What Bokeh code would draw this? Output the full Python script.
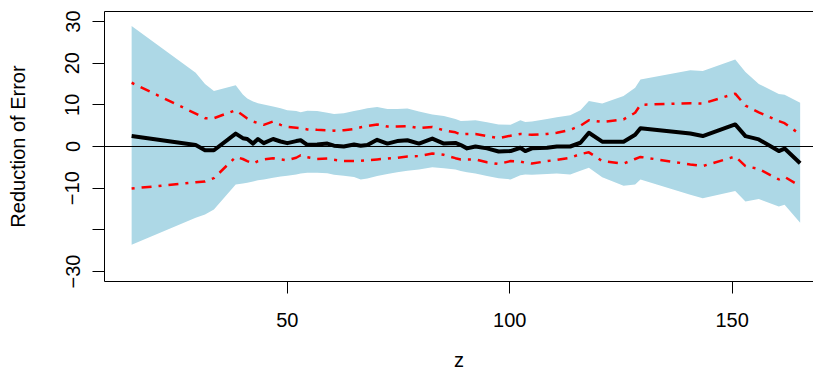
from bokeh.plotting import figure
from bokeh.models import Range1d, FixedTicker, Span, LinearAxis
from bokeh.embed import file_html
from bokeh.resources import INLINE

# ---- data ----
z = [15, 29.4, 31.5, 33.5, 38.4, 40, 41, 42.3, 43.4, 44.7, 46.8, 48.5, 50, 52, 53, 54.5,
     56.7, 59, 60.5, 62.7, 65, 66.5, 68, 70.2, 72.5, 74.7, 77, 79.6, 82.6, 85.2, 87.8, 89,
     90.4, 92.3, 94.9, 97.5, 100.2, 102.4, 103.5, 105, 108.4, 110.6, 113.6, 115.9, 117.8,
     120.8, 125.6, 128.2, 129.4, 140.6, 143.4, 150.7, 153, 156, 160.5, 161.8, 165.3]

reduction = [2.5, 0.35, -0.9, -0.9, 3.1, 2.0, 1.8, 0.7, 1.8, 0.8, 1.8, 1.2, 0.8, 1.3, 1.5, 0.4,
             0.5, 0.7, 0.2, 0.0, 0.5, 0.2, 0.35, 1.6, 0.7, 1.3, 1.5, 0.7, 1.9, 0.7, 0.85, 0.35,
             -0.45, 0.0, -0.45, -1.2, -1.1, -0.3, -1.1, -0.45, -0.3, 0.0, 0.0, 0.9, 3.3,
             1.15, 1.15, 2.8, 4.4, 3.1, 2.5, 5.3, 2.5, 1.7, -1.1, -0.5, -4.0]

red_upper = [15.3, 7.9, 6.8, 6.8, 8.7, 7.5, 6.7, 6.0, 5.6, 5.2, 6.0, 5.2, 4.7, 4.5, 4.4, 4.1,
             4.0, 3.9, 3.8, 3.9, 4.2, 4.6, 4.9, 5.3, 4.8, 4.8, 4.9, 4.4, 4.7, 3.9, 3.4, 2.9,
             3.0, 3.0, 2.5, 2.0, 2.6, 3.0, 2.9, 2.8, 3.0, 3.3, 4.0, 5.0, 6.3,
             5.9, 6.5, 8.1, 10.0, 10.4, 10.3, 12.7, 9.8, 8.2, 6.1, 5.6, 2.9]

red_lower = [-10.1, -8.6, -8.4, -7.6, -2.5, -3.0, -3.5, -4.1, -3.5, -3.1, -2.8, -3.1, -3.3, -2.7, -2.1, -2.6,
             -3.0, -2.9, -3.2, -3.5, -3.5, -3.4, -3.3, -3.1, -2.9, -2.7, -2.4, -2.3, -1.7, -2.0, -2.8, -3.1,
             -3.1, -3.1, -3.8, -4.2, -3.5, -3.6, -3.9, -4.1, -3.5, -3.2, -2.7, -1.8, -1.4,
             -3.5, -4.1, -3.0, -2.5, -4.3, -4.7, -2.4, -4.7, -5.4, -7.9, -7.3, -9.5]

band_upper = [28.9, 17.7, 15.0, 13.3, 14.7, 12.5, 11.5, 10.8, 10.4, 10.1, 9.6, 9.2, 8.7, 8.5, 8.2, 8.6,
              8.5, 8.1, 7.8, 8.0, 8.5, 8.8, 9.2, 9.5, 9.0, 9.0, 9.1, 8.4, 7.7, 7.3, 6.6, 6.1,
              6.2, 6.3, 5.8, 5.3, 5.2, 6.3, 5.9, 6.0, 6.6, 7.0, 7.5, 8.7, 10.9,
              10.3, 12.1, 14.1, 16.1, 18.3, 18.1, 20.9, 17.9, 15.0, 12.6, 12.4, 10.5]

band_lower = [-23.6, -17.1, -16.3, -15.1, -9.1, -8.9, -8.7, -8.4, -8.1, -7.9, -7.5, -7.2, -7.0, -6.7, -6.5, -6.3,
              -6.3, -6.4, -6.8, -7.0, -7.3, -7.9, -7.7, -7.1, -6.6, -6.2, -5.8, -5.5, -5.0, -5.2, -5.5, -5.9,
              -6.2, -6.5, -7.1, -7.6, -7.9, -6.9, -6.7, -6.8, -6.6, -6.5, -6.7, -5.8, -5.1,
              -7.4, -9.4, -9.1, -7.9, -11.6, -12.4, -10.7, -13.2, -12.6, -14.4, -14.0, -18.3]

x_ticks = [50, 100, 150]
y_ticks = [-30, -20, -10, 0, 10, 20, 30]
y_tick_labels = {30: "30", 20: "20", 10: "10", 0: "0", -10: "\u221210", -20: "", -30: "\u221230"}

FONT = "Liberation Sans"

p = figure(width=813, height=374, output_backend="svg", toolbar_location=None,
           x_range=Range1d(8.9, 168.3), y_range=Range1d(-32.4, 32.4),
           min_border_left=104, min_border_right=0, min_border_top=11, min_border_bottom=93)
p.background_fill_color = "white"
p.border_fill_color = "white"
p.grid.visible = False
p.outline_line_color = None

xax = p.below[0]
yax = p.left[0]

p.varea(x=z, y1=band_lower, y2=band_upper, fill_color="#ADD8E6")
p.line(z, red_upper, line_color="#FF0000", line_width=2.5, line_dash="3 7 10 7")
p.line(z, red_lower, line_color="#FF0000", line_width=2.5, line_dash="3 7 10 7")
p.line(z, reduction, line_color="black", line_width=4, line_join="round")
p.add_layout(Span(location=0, dimension="width", line_color="black", line_width=1))

for ax in (xax, yax):
    ax.minor_tick_line_color = None
    ax.major_tick_out = 12
    ax.major_tick_in = 0
    ax.axis_line_color = "black"
    ax.major_tick_line_color = "black"
    ax.major_label_text_font = FONT
    ax.major_label_text_font_size = "20px"
    ax.major_label_text_color = "black"
    ax.axis_label_text_font = FONT
    ax.axis_label_text_font_size = "20px"
    ax.axis_label_text_font_style = "normal"
    ax.axis_label_text_color = "black"

xax.ticker = FixedTicker(ticks=x_ticks)
yax.ticker = FixedTicker(ticks=y_ticks)
yax.major_label_overrides = y_tick_labels
yax.major_label_orientation = "vertical"
xax.axis_label = "z"
yax.axis_label = "Reduction of Error"
xax.major_label_standoff = 19
xax.axis_label_standoff = 19
yax.major_label_standoff = 13
yax.axis_label_standoff = 34

# top border of the box (an axis with no ticks or labels)
top = LinearAxis(ticker=FixedTicker(ticks=[]), major_label_text_font_size="0px",
                 axis_line_color="black", major_tick_line_color=None, minor_tick_line_color=None)
p.add_layout(top, "above")

open("out.html", "w").write(file_html(p, INLINE))
